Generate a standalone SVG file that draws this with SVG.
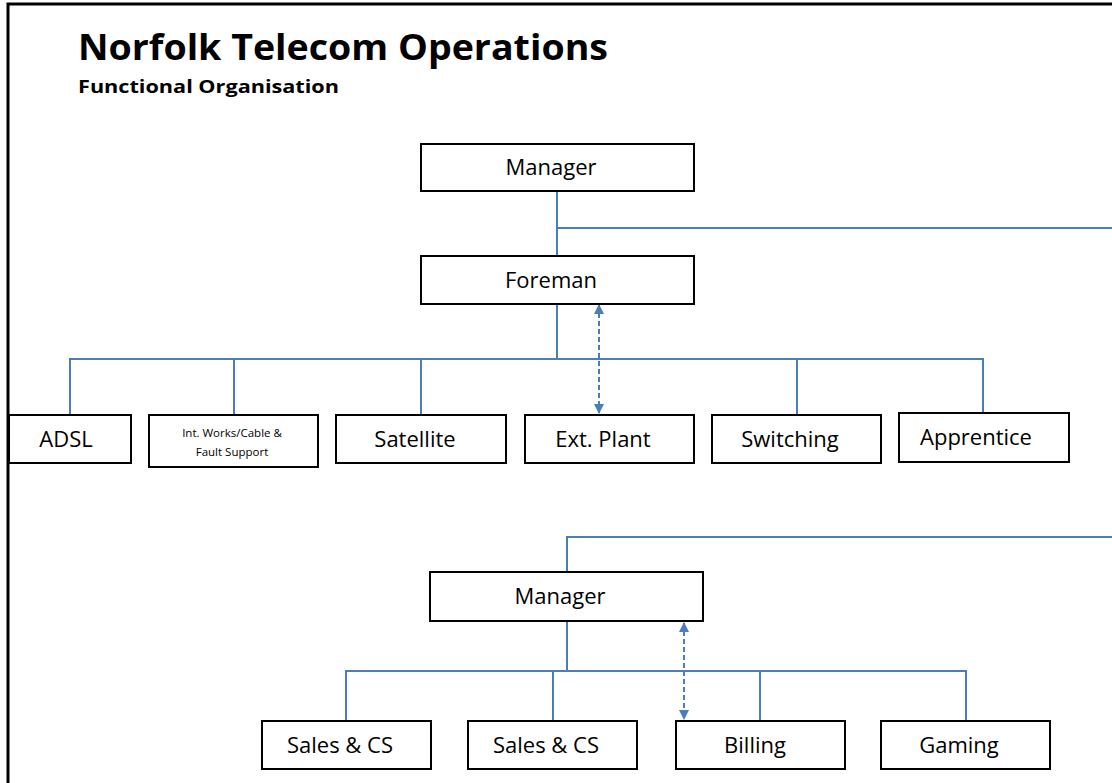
<svg xmlns="http://www.w3.org/2000/svg" width="1112" height="783" viewBox="0 0 1112 783">
<style>
.box{fill:#fff;stroke:#000;stroke-width:2}
.lbl{font-family:"Open Sans","Noto Sans",sans-serif;font-size:22px;fill:#000;text-anchor:middle}
.sm{font-family:"Open Sans","Noto Sans",sans-serif;font-size:11.5px;fill:#000;text-anchor:middle}
.ln{fill:none;stroke:#4A7EBB;stroke-width:2}
.dash{fill:none;stroke:#4A7EBB;stroke-width:2;stroke-dasharray:5 3}
.ttl{font-family:"Open Sans","Noto Sans",sans-serif;font-weight:bold;fill:#000}
</style>
<defs>
<marker id="ah" viewBox="0 0 10 10" refX="9" refY="5" markerWidth="5" markerHeight="5" orient="auto-start-reverse" markerUnits="strokeWidth">
<path d="M0,0 L10,5 L0,10 z" fill="#4A7EBB"/>
</marker>
</defs>
<rect width="1112" height="783" fill="#fff"/>
<rect x="8" y="4" width="1200" height="900" fill="none" stroke="#000" stroke-width="3"/>
<text class="ttl" x="78" y="60" font-size="35" textLength="530" lengthAdjust="spacingAndGlyphs">Norfolk Telecom Operations</text>
<text class="ttl" x="78" y="93" font-size="18" textLength="261" lengthAdjust="spacingAndGlyphs">Functional Organisation</text>
<g id="connectors">
<path class="ln" d="M557,191 V256"/>
<path class="ln" d="M557,228 H1112"/>
<path class="ln" d="M557,304 V359"/>
<path class="ln" d="M70,415 V359 H983 V413"/>
<path class="ln" d="M234,415 V359"/>
<path class="ln" d="M421,415 V359"/>
<path class="ln" d="M797,415 V359"/>
<path class="dash" d="M599,305 V413" marker-start="url(#ah)" marker-end="url(#ah)"/>
<path class="ln" d="M1112,537 H567 V572"/>
<path class="ln" d="M567,621 V671"/>
<path class="ln" d="M346,721 V671 H966 V721"/>
<path class="ln" d="M553,721 V671"/>
<path class="ln" d="M760,721 V671"/>
<path class="dash" d="M684,623 V719" marker-start="url(#ah)" marker-end="url(#ah)"/>
</g>
<g id="manager1"><rect class="box" x="421" y="144" width="273" height="47"/><text class="lbl" x="551" y="175">Manager</text></g>
<g id="foreman"><rect class="box" x="421" y="256" width="273" height="48"/><text class="lbl" x="551" y="288">Foreman</text></g>
<g id="adsl"><rect class="box" x="9" y="415" width="122" height="48"/><text class="lbl" x="66" y="447">ADSL</text></g>
<g id="intworks"><rect class="box" x="149" y="415" width="169" height="52"/><text class="sm" x="232" y="437">Int. Works/Cable &amp;</text><text class="sm" x="232" y="456">Fault Support</text></g>
<g id="satellite"><rect class="box" x="336" y="415" width="170" height="48"/><text class="lbl" x="415" y="447">Satellite</text></g>
<g id="extplant"><rect class="box" x="525" y="415" width="169" height="48"/><text class="lbl" x="603" y="447">Ext. Plant</text></g>
<g id="switching"><rect class="box" x="712" y="415" width="169" height="48"/><text class="lbl" x="790" y="447">Switching</text></g>
<g id="apprentice"><rect class="box" x="899" y="413" width="170" height="49"/><text class="lbl" x="976" y="445">Apprentice</text></g>
<g id="manager2"><rect class="box" x="430" y="572" width="273" height="49"/><text class="lbl" x="560" y="604">Manager</text></g>
<g id="sales1"><rect class="box" x="262" y="721" width="169" height="48"/><text class="lbl" x="340" y="753">Sales &amp; CS</text></g>
<g id="sales2"><rect class="box" x="468" y="721" width="169" height="48"/><text class="lbl" x="546" y="753">Sales &amp; CS</text></g>
<g id="billing"><rect class="box" x="676" y="721" width="169" height="48"/><text class="lbl" x="755" y="753">Billing</text></g>
<g id="gaming"><rect class="box" x="881" y="721" width="169" height="48"/><text class="lbl" x="959" y="753">Gaming</text></g>
</svg>
